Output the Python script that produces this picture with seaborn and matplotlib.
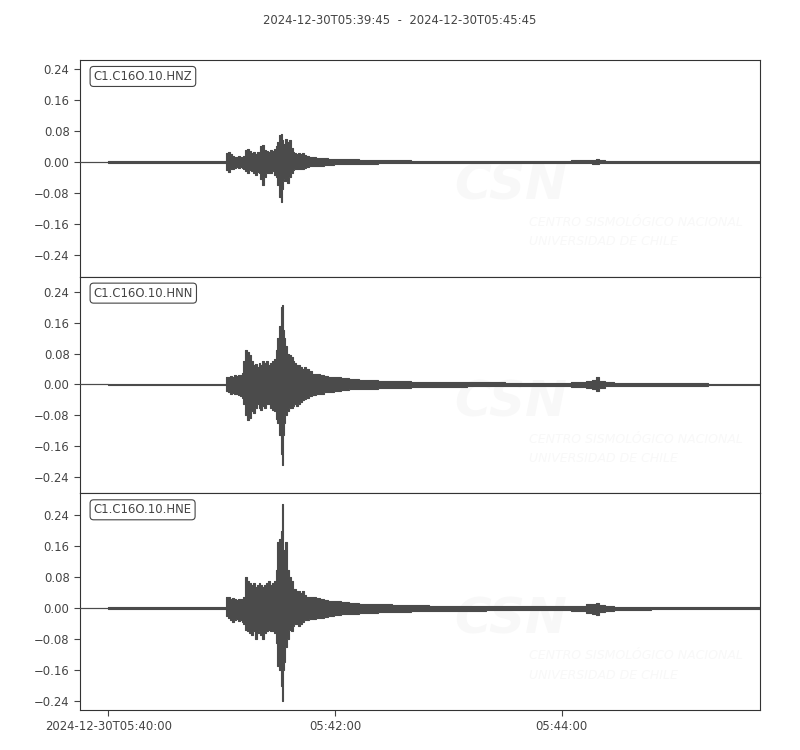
import numpy as np
import pandas as pd
import matplotlib
matplotlib.use("Agg")
import matplotlib.pyplot as plt
import seaborn as sns

# seconds after 2024-12-30T05:39:45
times = [0, 14, 16, 30, 45, 60, 70, 77,
         78, 79, 80, 81, 82, 83, 84, 85, 86, 87,
         88, 89, 90, 91, 92, 93, 94, 95, 96, 97,
         98, 99, 100, 101, 102, 103, 104, 105, 106, 106.5,
         107, 107.5, 108, 109, 110, 111, 112, 113, 114, 115,
         116, 117, 118, 119, 120, 122, 124, 126, 128, 130,
         133, 136, 140, 145, 150, 155, 160, 170, 180, 190,
         200, 210, 220, 230, 240, 250, 258, 262, 266, 270,
         272, 274, 276, 280, 285, 295, 310, 325, 340, 360]

hnz_up = [0, 0, .002, .002, .002, .002, .002, .002,
          .022, .024, .02, .016, .013, .012, .014, .012, .013, .015,
          .03, .034, .028, .022, .025, .02, .024, .026, .04, .044,
          .03, .028, .025, .03, .028, .032, .04, .05, .068, .072,
          .055, .045, .04, .058, .05, .056, .035, .025, .022, .02,
          .023, .02, .022, .018, .015, .013, .012, .011, .01, .009,
          .008, .008, .007, .006, .005, .005, .004, .004, .003, .003,
          .003, .003, .003, .003, .003, .003, .003, .004, .004, .004,
          .005, .006, .004, .003, .003, .003, .003, .003, .002, .002]
hnz_lo = [0, 0, -.002, -.002, -.002, -.002, -.002, -.002,
          -.022, -.026, -.02, -.018, -.015, -.014, -.016, -.013, -.015, -.02,
          -.025, -.028, -.022, -.025, -.03, -.033, -.026, -.03, -.045, -.06,
          -.04, -.03, -.028, -.03, -.025, -.035, -.04, -.06, -.09, -.103,
          -.07, -.05, -.045, -.05, -.054, -.04, -.03, -.022, -.02, -.02,
          -.02, -.018, -.02, -.015, -.014, -.012, -.011, -.01, -.01, -.009,
          -.008, -.007, -.007, -.006, -.005, -.005, -.004, -.004, -.003, -.003,
          -.003, -.003, -.003, -.003, -.003, -.003, -.003, -.004, -.004, -.004,
          -.005, -.006, -.004, -.003, -.003, -.003, -.003, -.003, -.002, -.002]

hnn_up = [0, 0, .002, .002, .002, .002, .002, .002,
          .018, .02, .022, .02, .024, .022, .025, .024, .03, .06,
          .09, .085, .075, .06, .05, .052, .045, .055, .05, .06,
          .055, .06, .05, .055, .06, .065, .09, .12, .15, .2,
          .205, .14, .12, .1, .08, .075, .07, .06, .055, .05,
          .05, .045, .04, .045, .04, .035, .028, .026, .024, .022,
          .02, .018, .016, .014, .012, .011, .01, .008, .007, .006,
          .006, .005, .005, .004, .004, .004, .004, .006, .006, .008,
          .012, .018, .01, .005, .004, .003, .003, .003, .002, .002]
hnn_lo = [0, 0, -.002, -.002, -.002, -.002, -.002, -.002,
          -.016, -.02, -.024, -.022, -.026, -.025, -.028, -.03, -.035, -.05,
          -.08, -.091, -.088, -.07, -.075, -.06, -.05, -.06, -.065, -.055,
          -.06, -.05, -.05, -.06, -.065, -.07, -.09, -.1, -.13, -.18,
          -.208, -.13, -.1, -.08, -.07, -.06, -.062, -.055, -.05, -.055,
          -.05, -.045, -.04, -.038, -.035, -.03, -.028, -.025, -.024, -.02,
          -.02, -.018, -.015, -.013, -.012, -.011, -.01, -.008, -.007, -.006,
          -.006, -.005, -.005, -.004, -.004, -.004, -.004, -.006, -.006, -.008,
          -.012, -.017, -.01, -.005, -.004, -.003, -.003, -.003, -.002, -.002]

hne_up = [0, 0, .002, .002, .002, .002, .002, .002,
          .028, .03, .025, .026, .024, .022, .025, .024, .025, .03,
          .08, .07, .065, .06, .065, .055, .06, .065, .06, .055,
          .06, .065, .07, .06, .065, .07, .1, .17, .18, .2,
          .27, .15, .12, .17, .1, .08, .07, .05, .05, .045,
          .045, .04, .045, .035, .03, .03, .028, .026, .025, .022,
          .02, .018, .016, .014, .012, .011, .01, .009, .008, .007,
          .006, .006, .005, .005, .005, .005, .005, .007, .006, .01,
          .012, .013, .008, .006, .004, .004, .003, .003, .002, .002]
hne_lo = [0, 0, -.002, -.002, -.002, -.002, -.002, -.002,
          -.02, -.025, -.03, -.035, -.03, -.028, -.032, -.03, -.035, -.04,
          -.055, -.06, -.065, -.07, -.06, -.08, -.065, -.06, -.07, -.08,
          -.065, -.06, -.055, -.06, -.06, -.065, -.09, -.15, -.16, -.2,
          -.24, -.16, -.14, -.1, -.08, -.055, -.06, -.045, -.04, -.04,
          -.045, -.04, -.035, -.03, -.03, -.028, -.027, -.025, -.024, -.022,
          -.02, -.018, -.016, -.014, -.012, -.011, -.01, -.009, -.008, -.007,
          -.006, -.006, -.005, -.005, -.005, -.005, -.005, -.007, -.006, -.012,
          -.015, -.017, -.01, -.006, -.004, -.004, -.003, -.003, -.002, -.002]

channels = ["C1.C16O.10.HNZ", "C1.C16O.10.HNN", "C1.C16O.10.HNE"]
y_limits = [(-0.297, 0.263), (-0.282, 0.279), (-0.263, 0.297)]
y_ticks = [-0.24, -0.16, -0.08, 0.0, 0.08, 0.16, 0.24]
tick_times = [15, 135, 255]
tick_labels = ["2024-12-30T05:40:00", "05:42:00", "05:44:00"]
title = "2024-12-30T05:39:45  -  2024-12-30T05:45:45"

trace_color = "#4b4b4b"
text_color = "#444444"
fsize = 8.4

sns.set_style("ticks")
plt.rcParams["font.family"] = ["DejaVu Sans"]

frames = []
for name, up, lo in zip(channels, [hnz_up, hnn_up, hne_up], [hnz_lo, hnn_lo, hne_lo]):
    frames.append(pd.DataFrame({"t": times, "up": up, "lo": lo, "channel": name}))
df = pd.concat(frames, ignore_index=True)

fig, axes = plt.subplots(3, 1, figsize=(8, 7.5), dpi=100, sharex=True)
fig.subplots_adjust(left=0.1, right=0.95, top=1 - 60 / 750, bottom=1 - 710 / 750, hspace=0)

for ax, name, ylim in zip(axes, channels, y_limits):
    d = df[df["channel"] == name]
    # faint watermark
    ax.text(0.55, 0.42, "CSN", transform=ax.transAxes, fontsize=36, fontweight="bold",
            style="italic", color="#f8f8f8", ha="left", va="center", zorder=0)
    ax.text(0.66, 0.25, "CENTRO SISMOLÓGICO NACIONAL", transform=ax.transAxes, fontsize=9,
            style="italic", color="#f8f8f8", ha="left", va="center", zorder=0)
    ax.text(0.66, 0.16, "UNIVERSIDAD DE CHILE", transform=ax.transAxes, fontsize=9,
            style="italic", color="#f8f8f8", ha="left", va="center", zorder=0)

    ax.fill_between(d["t"], d["lo"], d["up"], step="mid", color=trace_color,
                    linewidth=0, zorder=2)
    sns.lineplot(data=d, x="t", y="up", ax=ax, color=trace_color, linewidth=0.8,
                 drawstyle="steps-mid", zorder=3)
    sns.lineplot(data=d, x="t", y="lo", ax=ax, color=trace_color, linewidth=0.8,
                 drawstyle="steps-mid", zorder=3)

    ax.set_xlim(0, 360)
    ax.set_ylim(*ylim)
    ax.set_yticks(y_ticks)
    ax.set_yticklabels([f"{v:.2f}".replace("-", "\u2212") for v in y_ticks])
    ax.set_xlabel("")
    ax.set_ylabel("")
    ax.tick_params(axis="y", labelsize=fsize, colors=text_color, length=4, width=0.8)
    for s in ax.spines.values():
        s.set_color("#333333")
        s.set_linewidth(0.8)
    ax.text(0.02, 0.924, name, transform=ax.transAxes, fontsize=fsize, color=text_color,
            ha="left", va="center", zorder=5,
            bbox=dict(boxstyle="round,pad=0.3", fc="white", ec=text_color, lw=0.8))

for ax in axes[:-1]:
    ax.tick_params(axis="x", bottom=False, labelbottom=False)

axes[-1].set_xticks(tick_times)
axes[-1].set_xticklabels(tick_labels)
axes[-1].tick_params(axis="x", labelsize=fsize, colors=text_color, length=4, width=0.8)

fig.text(0.5, 1 - 20 / 750, title, ha="center", va="center", fontsize=fsize, color=text_color)

fig.savefig("out.png", dpi=100)
